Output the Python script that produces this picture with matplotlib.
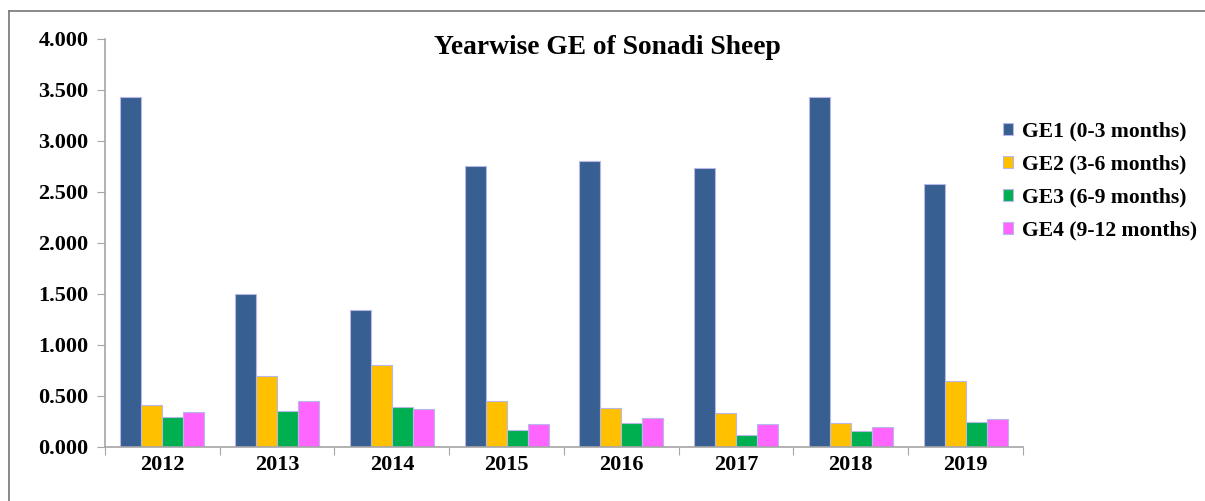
import numpy as np
import matplotlib.pyplot as plt
from matplotlib.lines import Line2D

years = ['2012', '2013', '2014', '2015', '2016', '2017', '2018', '2019']
ge1 = [3.43, 1.50, 1.34, 2.75, 2.80, 2.74, 3.43, 2.58]
ge2 = [0.41, 0.70, 0.80, 0.45, 0.385, 0.33, 0.24, 0.65]
ge3 = [0.29, 0.35, 0.39, 0.17, 0.24, 0.12, 0.16, 0.245]
ge4 = [0.34, 0.45, 0.37, 0.23, 0.28, 0.23, 0.20, 0.275]
labels = ['GE1 (0-3 months)', 'GE2 (3-6 months)', 'GE3 (6-9 months)', 'GE4 (9-12 months)']
colors = ['#375F91', '#FFC000', '#00B050', '#FF66FF']

plt.rcParams['font.family'] = ['Liberation Serif', 'DejaVu Serif']
plt.rcParams['font.weight'] = 'bold'

fig = plt.figure(figsize=(12.05, 5.01), dpi=100)
ax = fig.add_axes([0.0871, 0.1078, 0.7618, 0.8144])

x = np.arange(len(years))
w = 0.183
series = [ge1, ge2, ge3, ge4]
for i, s in enumerate(series):
    ax.bar(x + (i - 1.5) * w, s, w, color=colors[i], edgecolor='#B8B8E8',
           linewidth=0.8, label=labels[i])

ax.set_xlim(-0.5, len(years) - 0.5)
ax.set_ylim(0, 4.0)
ax.set_yticks(np.arange(0, 4.01, 0.5))
ax.set_yticklabels(['%.3f' % v for v in np.arange(0, 4.01, 0.5)], fontsize=16, fontweight='bold')

ax.set_xticks(np.arange(-0.5, len(years), 1))
ax.set_xticklabels([])
ax.set_xticks(x, minor=True)
ax.set_xticklabels(years, minor=True, fontsize=16, fontweight='bold')
ax.tick_params(axis='x', which='minor', length=0, pad=6)
ax.tick_params(axis='x', which='major', length=6, color='#A6A6A6', direction='out')
ax.tick_params(axis='y', length=6, color='#A6A6A6', direction='out', pad=6)

for sp in ['top', 'right']:
    ax.spines[sp].set_visible(False)
for sp in ['left', 'bottom']:
    ax.spines[sp].set_color('#A6A6A6')
    ax.spines[sp].set_linewidth(1.2)

fig.text(0.504, 0.905, 'Yearwise GE of Sonadi Sheep', ha='center', va='center',
         fontsize=19.8, fontweight='bold')

ax.legend(loc='upper left', bbox_to_anchor=(0.832, 0.757), bbox_transform=fig.transFigure,
          frameon=False, borderpad=0, borderaxespad=0,
          handlelength=0.5, handleheight=0.5, handletextpad=0.4, labelspacing=0.6,
          prop={'weight': 'bold', 'size': 15.6})

# outer frame lines (top and left)
fig.add_artist(Line2D([9 / 1205, 1], [1 - 11 / 501, 1 - 11 / 501], color='#808080', lw=1.3,
                      transform=fig.transFigure))
fig.add_artist(Line2D([9 / 1205, 9 / 1205], [0, 1 - 11 / 501], color='#808080', lw=1.3,
                      transform=fig.transFigure))

fig.savefig('out.png', dpi=100)
